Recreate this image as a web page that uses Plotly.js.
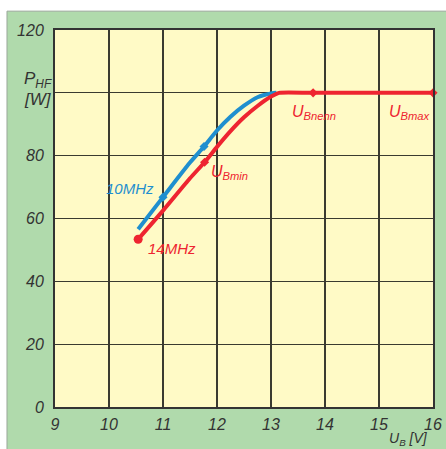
<!DOCTYPE html>
<html><head><meta charset="utf-8">
<script src="https://cdn.plot.ly/plotly-3.0.1.min.js"></script>
<style>html,body{margin:0;padding:0;background:#fff}</style>
</head><body>
<div id="chart" style="width:446px;height:449px"></div>
<script>
// Data
var blueX = [10.54, 11.0, 11.5, 11.76, 12.0, 12.25, 12.5, 12.75, 13.0, 13.1];
var blueY = [56.6, 66.8, 77.8, 82.9, 88.0, 92.4, 95.9, 98.6, 99.8, 100];
var redX  = [10.54, 11.0, 11.5, 11.77, 12.0, 12.25, 12.5, 12.75, 13.0, 13.15, 13.78, 16];
var redY  = [53.4, 62.5, 72.8, 77.9, 82.8, 87.8, 92.2, 95.8, 98.8, 100, 100, 100];
var blueMarkX = [11.0, 11.76];
var blueMarkY = [66.8, 82.9];
var redMarkX = [11.77, 13.78, 16];
var redMarkY = [77.9, 100, 100];
var redStartX = [10.54];
var redStartY = [53.4];
var xTicks = [9, 10, 11, 12, 13, 14, 15, 16];
var yTicks = [0, 20, 40, 60, 80, 100, 120];
var yTickText = ['0', '20', '40', '60', '80', '', '120'];

var BLUE = '#1f8fcf', RED = '#ee2430';
var tickFont = {family: 'Liberation Sans, Arial, sans-serif', size: 16, color: '#333333', style: 'italic'};

var traces = [
  {x: blueX, y: blueY, mode: 'lines', line: {color: BLUE, width: 4, shape: 'spline', smoothing: 0.8}, hoverinfo: 'skip'},
  {x: redX, y: redY, mode: 'lines', line: {color: RED, width: 4, shape: 'spline', smoothing: 0.6}, hoverinfo: 'skip'},
  {x: blueMarkX, y: blueMarkY, mode: 'markers', marker: {color: BLUE, size: 7, symbol: 'diamond'}, hoverinfo: 'skip'},
  {x: redMarkX, y: redMarkY, mode: 'markers', marker: {color: RED, size: 7, symbol: 'diamond'}, hoverinfo: 'skip', cliponaxis: false},
  {x: redStartX, y: redStartY, mode: 'markers', marker: {color: RED, size: 9, symbol: 'circle'}, hoverinfo: 'skip'}
];

function ann(text, x, y, color, size, xref, yref, yanchor) {
  return {text: text, x: x, y: y, xref: xref || 'x', yref: yref || 'y', showarrow: false,
          font: {family: 'Liberation Sans, Arial, sans-serif', size: size, color: color, style: 'italic'},
          xanchor: 'center', yanchor: yanchor || 'middle', borderpad: 0};
}

var layout = {
  width: 446, height: 449,
  margin: {l: 55, r: 13, t: 30, b: 42},
  paper_bgcolor: '#b0daac',
  plot_bgcolor: '#fffac6',
  showlegend: false,
  xaxis: {range: [9, 16], tickvals: xTicks, showgrid: true, gridcolor: '#3a3a30', gridwidth: 1.3,
          showline: true, mirror: true, linecolor: '#333', linewidth: 2, zeroline: false,
          tickfont: tickFont, ticks: '', ticklabelstandoff: 2, fixedrange: true},
  yaxis: {range: [0, 120], tickvals: yTicks, ticktext: yTickText, showgrid: true, gridcolor: '#3a3a30', gridwidth: 1.3,
          showline: true, mirror: true, linecolor: '#333', linewidth: 2, zeroline: false,
          tickfont: tickFont, ticks: '', ticklabelstandoff: 6, fixedrange: true},
  shapes: [
    {type: 'rect', xref: 'paper', yref: 'paper', x0: -0.2, x1: 1.1, y0: 1.05, y1: 1.2, fillcolor: '#ffffff', line: {width: 0}, layer: 'below'},
    {type: 'rect', xref: 'paper', yref: 'paper', x0: -0.2, x1: -0.127, y0: -0.2, y1: 1.2, fillcolor: '#ffffff', line: {width: 0}, layer: 'below'},
    {type: 'line', xref: 'paper', yref: 'paper', x0: -0.127, x1: 1.1, y0: 1.05, y1: 1.05, line: {color: '#9aa79a', width: 1}, layer: 'below'},
    {type: 'line', xref: 'paper', yref: 'paper', x0: -0.127, x1: -0.127, y0: -0.2, y1: 1.05, line: {color: '#9aa79a', width: 1}, layer: 'below'}
  ],
  annotations: [
    ann('10MHz', 10.39, 69.7, BLUE, 15),
    ann('14MHz', 11.17, 50.6, RED, 15),
    ann('U<sub>Bmin</sub>', 12.24, 74.8, RED, 16),
    ann('U<sub>Bnenn</sub>', 13.8, 93.9, RED, 16),
    ann('U<sub>Bmax</sub>', 15.56, 93.9, RED, 16),
    ann('P<sub>HF</sub>', -0.045, 0.867, '#333333', 17, 'paper', 'paper'),
    ann('[W]', -0.045, 0.815, '#333333', 17, 'paper', 'paper'),
    ann('U<sub>B</sub> [V]', 0.935, -0.1114, '#333333', 14, 'paper', 'paper', 'bottom')
  ]
};

Plotly.newPlot('chart', traces, layout, {displayModeBar: false, staticPlot: true});
</script>
</body></html>
